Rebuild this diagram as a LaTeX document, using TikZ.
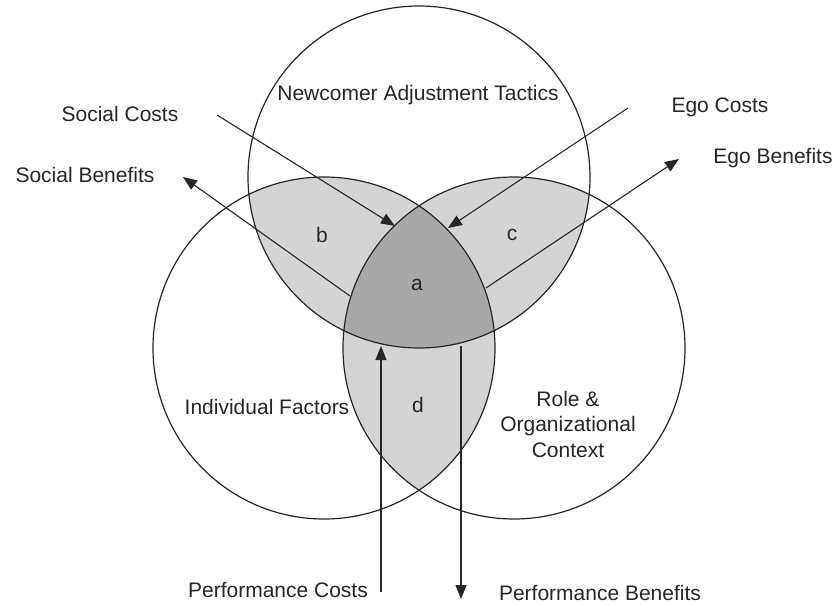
\documentclass[tikz,border=0pt]{standalone}
\usepackage{fontspec}
\setmainfont{Liberation Sans}
\usetikzlibrary{arrows.meta}
\definecolor{lensgray}{gray}{0.83}
\definecolor{coregray}{gray}{0.66}
\definecolor{inkgray}{gray}{0.15}
\begin{document}
\begin{tikzpicture}[x=1pt,y=-1pt,
  ring/.style={circle,draw=inkgray,line width=1.2pt,minimum size=342pt,inner sep=0pt},
  lbl/.style={text=inkgray,font=\fontsize{21}{25}\selectfont,inner sep=0pt},
  flow/.style={draw=inkgray,line width=1.1pt,-{Triangle[length=14pt,width=11pt]}}]
\useasboundingbox[fill=white] (0,0) rectangle (836,605);
% circle centres
\coordinate (cT) at (419,177);
\coordinate (cL) at (324,348);
\coordinate (cR) at (514,348);
% pairwise overlaps
\begin{scope}
  \clip (cT) circle (171);
  \fill[lensgray] (cL) circle (171);
  \fill[lensgray] (cR) circle (171);
\end{scope}
\begin{scope}
  \clip (cL) circle (171);
  \fill[lensgray] (cR) circle (171);
\end{scope}
% triple overlap
\begin{scope}
  \clip (cT) circle (171);
  \clip (cL) circle (171);
  \fill[coregray] (cR) circle (171);
\end{scope}
% the three sets
\node[ring] (top) at (cT) {};
\node[ring] (left) at (cL) {};
\node[ring] (right) at (cR) {};
% region letters
\node[lbl] (ra) at (417,285) {a};
\node[lbl] (rb) at (322,235) {b};
\node[lbl] (rc) at (512,235) {c};
\node[lbl] (rd) at (418,405) {d};
% set names
\node[lbl] (tactics) at (418,95) {Newcomer Adjustment Tactics};
\node[lbl] (indiv) at (267,407) {Individual Factors};
\node[lbl,align=center,font=\fontsize{21}{25.5}\selectfont] (role) at (568,424) {Role \&\\Organizational\\Context};
% outcome labels
\node[lbl] (scost) at (120,114) {Social Costs};
\node[lbl] (sben) at (85,175) {Social Benefits};
\node[lbl] (ecost) at (720,107) {Ego Costs};
\node[lbl] (eben) at (773,158) {Ego Benefits};
\node[lbl] (pcost) at (278,590) {Performance Costs};
\node[lbl] (pben) at (600,593) {Performance Benefits};
% arrow ends
\coordinate (scS) at (217,115);
\coordinate (scE) at (395,226);
\coordinate (ecS) at (628,108);
\coordinate (ecE) at (448,228);
\coordinate (sbS) at (350,296);
\coordinate (sbE) at (183,177);
\coordinate (ebS) at (486,288);
\coordinate (ebE) at (679,159);
\coordinate (pcS) at (381,592);
\coordinate (pcE) at (381,346);
\coordinate (pbS) at (461,346);
\coordinate (pbE) at (461,599);
% flows
\draw[flow] (scS) -- (scE);
\draw[flow] (ecS) -- (ecE);
\draw[flow] (sbS) -- (sbE);
\draw[flow] (ebS) -- (ebE);
\draw[flow] (pcS) -- (pcE);
\draw[flow] (pbS) -- (pbE);
\end{tikzpicture}
\end{document}
